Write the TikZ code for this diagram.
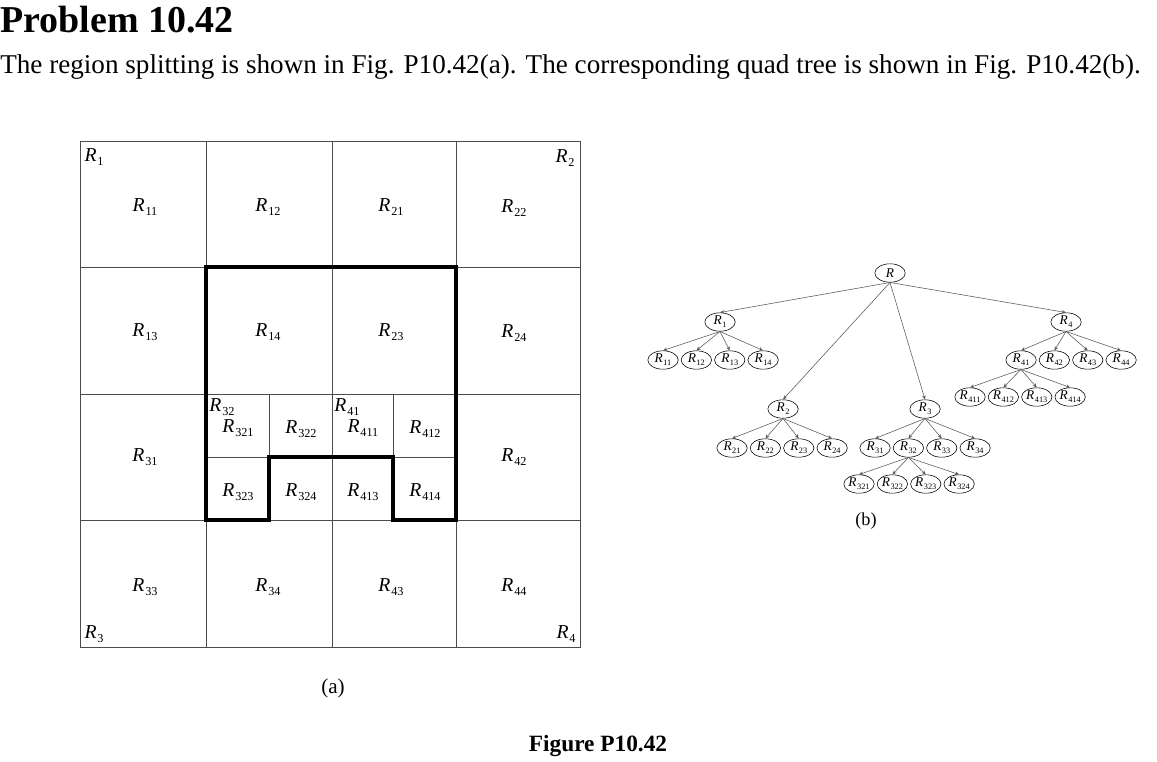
\documentclass[tikz,border=0pt]{standalone}
\usepackage{fontspec}
\setmainfont{Liberation Serif}
\usetikzlibrary{positioning, arrows.meta, shapes.geometric}
\newcommand{\rg}[1]{\textit{R}\kern0.04em\raisebox{-0.45ex}{\scalebox{0.62}{#1}}}

\begin{document}
\begin{tikzpicture}[x=0.025cm, y=-0.025cm, node distance=0.06cm,
		cell/.style={font=\fontsize{14}{16}\selectfont, inner sep=0pt},
		tnode/.style={draw, ellipse, minimum width=0.76cm, minimum height=0.46cm, inner sep=0pt, font=\fontsize{9.5}{10}\selectfont},
		edge/.style={-{Stealth[length=3pt, width=2.5pt]}, gray!70!black, thin}]
	\useasboundingbox (0,0) rectangle (1157,762);
	% heading
	\node[anchor=base west, font=\fontsize{27}{30}\bfseries\selectfont, inner sep=0pt] (title) at (0,33) {Problem 10.42};
	\node[anchor=base west, font=\fontsize{19.3}{21}\selectfont, inner sep=0pt] (intro) at (0,73)
		{The region splitting is shown in Fig. P10.42(a). The corresponding quad tree is shown in Fig. P10.42(b).};
	% (a) region splitting
	\draw[gray!60!black, thin] (80,141) rectangle (580,647);
	\foreach \x in {206,332,456} \draw[gray!60!black, thin] (\x,141) -- (\x,647);
	\foreach \y in {267,394,520} \draw[gray!60!black, thin] (80,\y) -- (580,\y);
	\draw[gray!60!black, thin] (269,394) -- (269,520) (393,394) -- (393,520) (206,457) -- (456,457);
	\draw[line width=3.5pt, line join=miter] (206,267) -- (456,267) -- (456,520) -- (393,520) -- (393,457)
		-- (269,457) -- (269,520) -- (206,520) -- cycle;
	\node[cell] (q1) at (94,157) {\rg{1}};
	\node[cell] (q2) at (565,158) {\rg{2}};
	\node[cell] (q3) at (94,634) {\rg{3}};
	\node[cell] (q4) at (566,634) {\rg{4}};
	\node[cell] (r11) at (145,207) {\rg{11}};
	\node[cell] (r12) at (268,207) {\rg{12}};
	\node[cell] (r21) at (391,207) {\rg{21}};
	\node[cell] (r22) at (514,208) {\rg{22}};
	\node[cell] (r13) at (145,332) {\rg{13}};
	\node[cell] (r14) at (268,332) {\rg{14}};
	\node[cell] (r23) at (391,332) {\rg{23}};
	\node[cell] (r24) at (514,333) {\rg{24}};
	\node[cell] (r31) at (145,457) {\rg{31}};
	\node[cell] (r42) at (514,457) {\rg{42}};
	\node[cell] (r32) at (222,407) {\rg{32}};
	\node[cell] (r41) at (347,407) {\rg{41}};
	\node[cell] (r321) at (238,428) {\rg{321}};
	\node[cell] (r322) at (301,429) {\rg{322}};
	\node[cell] (r411) at (363,428) {\rg{411}};
	\node[cell] (r412) at (425,429) {\rg{412}};
	\node[cell] (r323) at (238,492) {\rg{323}};
	\node[cell] (r324) at (301,492) {\rg{324}};
	\node[cell] (r413) at (363,492) {\rg{413}};
	\node[cell] (r414) at (425,492) {\rg{414}};
	\node[cell] (r33) at (145,587) {\rg{33}};
	\node[cell] (r34) at (268,587) {\rg{34}};
	\node[cell] (r43) at (391,587) {\rg{43}};
	\node[cell] (r44) at (514,587) {\rg{44}};
	\node[font=\fontsize{15}{17}\selectfont] (capa) at (333,688) {(a)};
	% (b) quad tree
	\node[tnode] (t) at (890,273) {\textit{R}};
	\node[tnode] (t1) at (720,322) {\rg{1}};
	\node[tnode] (t4) at (1066,322) {\rg{4}};
	\node[tnode] (t2) at (783,409) {\rg{2}};
	\node[tnode] (t3) at (925,409) {\rg{3}};
	\node[tnode] (t11) at (663,360) {\rg{11}};
	\node[tnode, right=of t11] (t12) {\rg{12}};
	\node[tnode, right=of t12] (t13) {\rg{13}};
	\node[tnode, right=of t13] (t14) {\rg{14}};
	\node[tnode] (t41) at (1021,360) {\rg{41}};
	\node[tnode, right=of t41] (t42) {\rg{42}};
	\node[tnode, right=of t42] (t43) {\rg{43}};
	\node[tnode, right=of t43] (t44) {\rg{44}};
	\node[tnode] (t411) at (970,397) {\rg{411}};
	\node[tnode, right=of t411] (t412) {\rg{412}};
	\node[tnode, right=of t412] (t413) {\rg{413}};
	\node[tnode, right=of t413] (t414) {\rg{414}};
	\node[tnode] (t21) at (732,448) {\rg{21}};
	\node[tnode, right=of t21] (t22) {\rg{22}};
	\node[tnode, right=of t22] (t23) {\rg{23}};
	\node[tnode, right=of t23] (t24) {\rg{24}};
	\node[tnode] (t31) at (875,448) {\rg{31}};
	\node[tnode, right=of t31] (t32) {\rg{32}};
	\node[tnode, right=of t32] (t33) {\rg{33}};
	\node[tnode, right=of t33] (t34) {\rg{34}};
	\node[tnode] (t321) at (859,484) {\rg{321}};
	\node[tnode, right=of t321] (t322) {\rg{322}};
	\node[tnode, right=of t322] (t323) {\rg{323}};
	\node[tnode, right=of t323] (t324) {\rg{324}};
	\foreach \c in {1,2,3,4} \draw[edge] (t.south) -- (t\c.north);
	\foreach \c in {1,2,3,4} {
		\draw[edge] (t1.south) -- (t1\c.north);
		\draw[edge] (t2.south) -- (t2\c.north);
		\draw[edge] (t3.south) -- (t3\c.north);
		\draw[edge] (t4.south) -- (t4\c.north);
		\draw[edge] (t41.south) -- (t41\c.north);
		\draw[edge] (t32.south) -- (t32\c.north);
	}
	\node[font=\fontsize{13}{15}\selectfont] (capb) at (866,521) {(b)};
	\node[anchor=base, font=\fontsize{16.6}{19}\bfseries\selectfont, inner sep=0pt] (fig) at (598,751) {Figure P10.42};
\end{tikzpicture}
\end{document}
